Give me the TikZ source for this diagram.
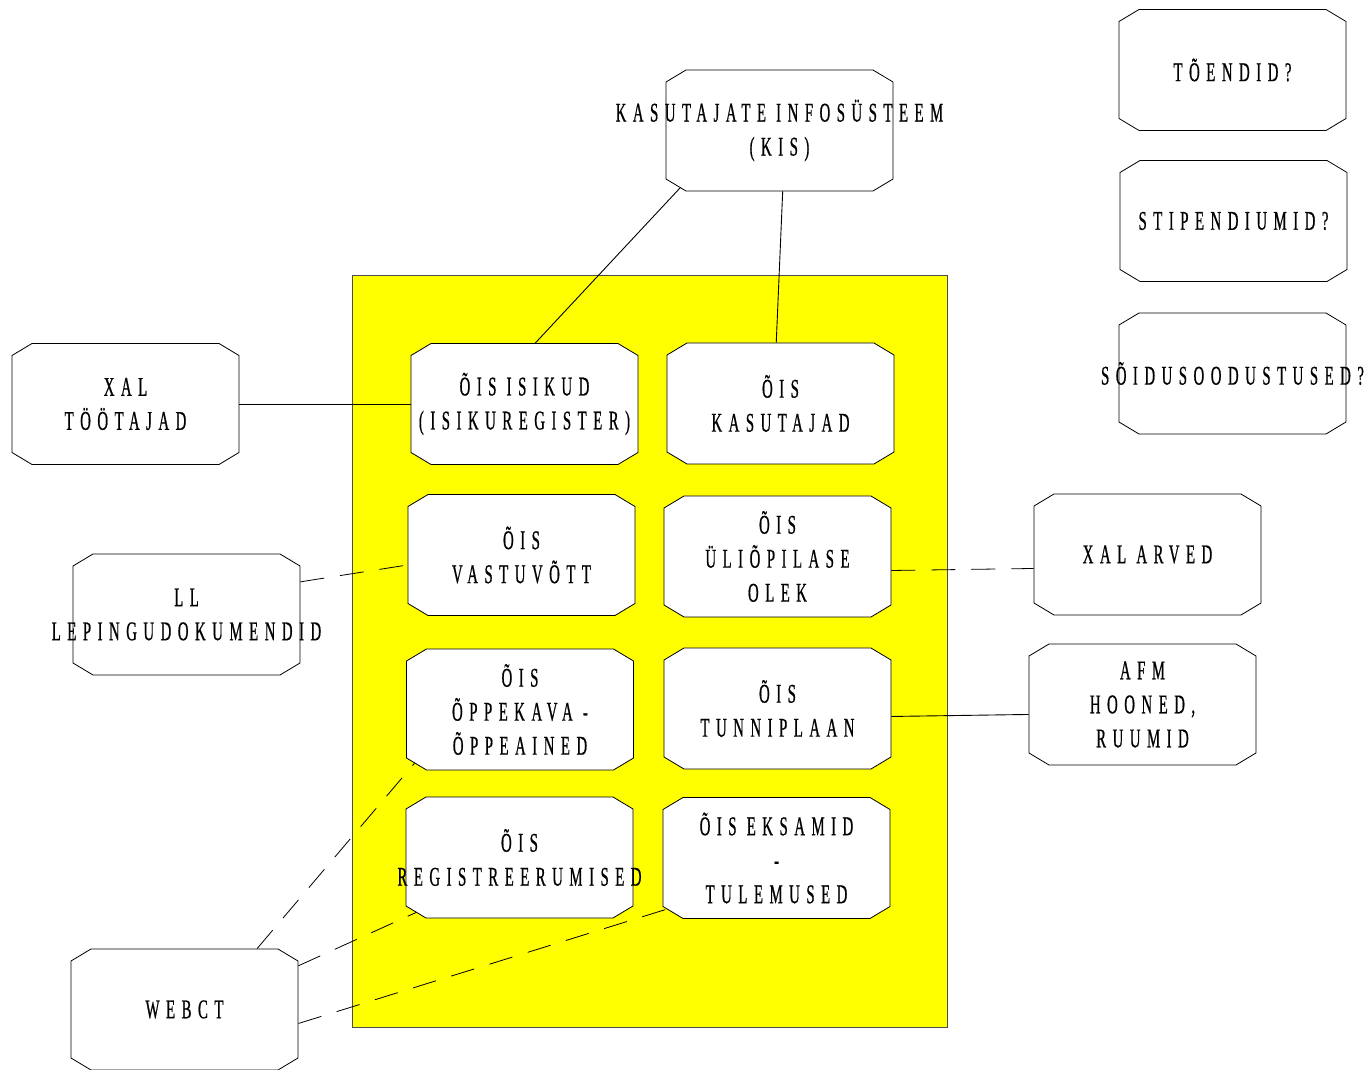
\documentclass[tikz,border=0pt]{standalone}
\usepackage{fontspec}
\setmainfont{Liberation Serif}[FakeStretch=0.55,LetterSpace=24,FakeBold=0.6]
\usetikzlibrary{shapes.misc}
\definecolor{oisyellow}{RGB}{255,255,0}
\tikzset{
  sysbox/.style={chamfered rectangle, draw, fill=white, line width=0.8pt,
    inner xsep=103.5pt, inner ysep=54.5pt, chamfered rectangle angle=59.04,
    chamfered rectangle xsep=10pt, chamfered rectangle ysep=6pt},
  boxtext/.style={align=center, font=\fontsize{27}{34}\selectfont, inner sep=0pt},
  link/.style={line width=0.9pt},
  dashlink/.style={line width=0.8pt, dash pattern=on 24pt off 16pt},
}
\begin{document}
\begin{tikzpicture}[x=1pt,y=1pt]
        \useasboundingbox (0,0) rectangle (1370,1069);
        % yellow area of the student information system
        \fill[oisyellow, draw=black!70, line width=0.8pt] (352,42) rectangle (947,794);
        % outside systems
        \node[sysbox, label={[boxtext]center:{KASUTAJATE INFOSÜSTEEM\\(KIS)}}] (kis) at (779.5,938.5) {};
        \node[sysbox, label={[boxtext]center:{TÕENDID?}}] (toendid) at (1232.5,999) {};
        \node[sysbox, label={[boxtext]center:{STIPENDIUMID?}}] (stipendiumid) at (1233.5,848) {};
        \node[sysbox, label={[boxtext]center:{SÕIDUSOODUSTUSED?}}] (soidu) at (1232.5,695.5) {};
        \node[sysbox, label={[boxtext]center:{XAL\\TÖÖTAJAD}}] (xaltootajad) at (125.5,665) {};
        \node[sysbox, label={[boxtext]center:{XAL ARVED}}] (xalarved) at (1147.5,514.5) {};
        \node[sysbox, label={[boxtext]center:{LL\\LEPINGUDOKUMENDID}}] (ll) at (186.5,454.5) {};
        \node[sysbox, label={[boxtext]center:{AFM\\HOONED,\\RUUMID}}] (afm) at (1142.5,364.5) {};
        \node[sysbox, label={[boxtext]center:{WEBCT}}] (webct) at (184.5,59.5) {};
        % OIS modules
        \node[sysbox, label={[boxtext]center:{ÕIS ISIKUD\\(ISIKUREGISTER)}}] (isikud) at (524.5,665) {};
        \node[sysbox, label={[boxtext]center:{ÕIS\\KASUTAJAD}}] (kasutajad) at (780.5,665.5) {};
        \node[sysbox, label={[boxtext]center:{ÕIS\\VASTUVÕTT}}] (vastuvott) at (521.5,514) {};
        \node[sysbox, label={[boxtext]center:{ÕIS\\ÜLIÕPILASE\\OLEK}}] (olek) at (777.5,512.5) {};
        \node[sysbox, label={[boxtext]center:{ÕIS\\ÕPPEKAVA -\\ÕPPEAINED}}] (oppekava) at (520,359.5) {};
        \node[sysbox, label={[boxtext]center:{ÕIS\\TUNNIPLAAN}}] (tunniplaan) at (777.5,360.5) {};
        \node[sysbox, label={[boxtext]center:{ÕIS\\REGISTREERUMISED}}] (registreerumised) at (519.5,211.5) {};
        \node[sysbox, label={[boxtext]center:{ÕIS EKSAMID\\-\\TULEMUSED}}] (eksamid) at (776.5,211) {};
        % links
        \draw[link] (kis.210.8) -- (isikud.80);
        \draw[link] (kis.273.3) -- (kasutajad.94.3);
        \draw[link] (xaltootajad.east) -- (isikud.west);
        \draw[link] (tunniplaan.356.2) -- (afm.185.3);
        \draw[dashlink] (ll.16.9) -- (vastuvott.185.5);
        \draw[dashlink] (olek.353.7) -- (xalarved.187.3);
        \draw[dashlink] (webct.40.2) -- (oppekava.207.4);
        \draw[dashlink] (webct.21.4) -- (registreerumised.208);
        \draw[dashlink] (webct.353.7) -- (eksamid.205.7);
      \end{tikzpicture}
\end{document}
